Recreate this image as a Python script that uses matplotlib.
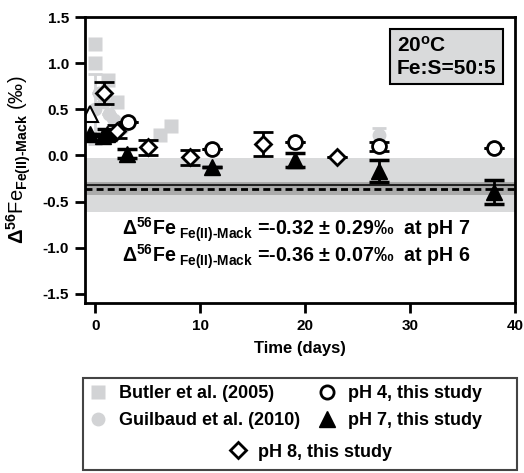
import numpy as np
import matplotlib
matplotlib.use('Agg')
import matplotlib.pyplot as plt
from matplotlib.lines import Line2D
from matplotlib.patches import Rectangle

plt.rcParams['font.family'] = ['Liberation Sans', 'DejaVu Sans']
plt.rcParams['font.weight'] = 'bold'
plt.rcParams['mathtext.fontset'] = 'custom'
plt.rcParams['mathtext.rm'] = 'Liberation Sans:bold'
plt.rcParams['mathtext.it'] = 'Liberation Sans:bold'
plt.rcParams['mathtext.bf'] = 'Liberation Sans:bold'
plt.rcParams['mathtext.sf'] = 'Liberation Sans:bold'

# literature data
butler_t = [0.0, 0.0, 1.2, 2.1, 6.2, 7.2]
butler_d = [1.21, 1.00, 0.82, 0.58, 0.22, 0.32]
guil_t = [0.0, 0.3, 0.8, 1.3, 1.8, 2.5, 27.0]
guil_d = [0.50, 0.68, 0.58, 0.45, 0.38, 0.30, 0.22]
guil_e = [0.38, 0.0, 0.0, 0.0, 0.0, 0.0, 0.08]

# this study
ph4_t = [3.1, 11.1, 19.0, 27.0, 38.0]
ph4_d = [0.36, 0.07, 0.15, 0.10, 0.08]
ph4_e = [0.0, 0.0, 0.0, 0.05, 0.0]
ph7_t = [-0.5, 0.7, 1.1, 3.0, 11.1, 19.0, 27.0, 38.0]
ph7_d = [0.23, 0.21, 0.23, 0.02, -0.13, -0.05, -0.17, -0.40]
ph7_e = [0.0, 0.0, 0.06, 0.05, 0.0, 0.08, 0.12, 0.13]
ph7_open_t = [-0.5]
ph7_open_d = [0.45]
ph8_t = [0.8, 2.1, 5.0, 9.0, 16.0, 23.0]
ph8_d = [0.68, 0.26, 0.09, -0.02, 0.12, -0.02]
ph8_e = [0.12, 0.07, 0.08, 0.08, 0.13, 0.0]

# fractionation factors: mean, 2sd
ff_ph7 = (-0.32, 0.29)
ff_ph6 = (-0.36, 0.07)

fig = plt.figure(figsize=(5.24, 4.73), dpi=100)
ax = fig.add_axes([0.162, 0.359, 0.821, 0.605])

ax.axhspan(ff_ph7[0] - ff_ph7[1], ff_ph7[0] + ff_ph7[1], color='#d9dadb', lw=0, zorder=0)
ax.axhspan(ff_ph6[0] - ff_ph6[1], ff_ph6[0] + ff_ph6[1], color='#ababab', lw=0, zorder=0.5)
ax.axhline(ff_ph7[0], color='#222222', lw=1.5, zorder=1)
ax.axhline(ff_ph6[0], color='black', lw=2, ls=(0, (2.5, 1.5)), zorder=1)

gray = '#d2d3d5'
ax.plot(butler_t, butler_d, 's', ms=10, color=gray, mec='none', zorder=2)
ax.errorbar(guil_t, guil_d, yerr=guil_e, fmt='o', ms=10, color=gray, mec='none',
            ecolor=gray, elinewidth=2, capsize=5, capthick=2, zorder=2)

kw = dict(ecolor='black', elinewidth=2, capsize=7, capthick=2.5, zorder=3)
ax.plot(ph7_open_t, ph7_open_d, '^', ms=11, mfc='white', mec='black', mew=1.5, zorder=2.5)
ax.errorbar(ph7_t, ph7_d, yerr=ph7_e, fmt='^', ms=11, mfc='black', mec='black', **kw)
ax.errorbar(ph4_t, ph4_d, yerr=ph4_e, fmt='o', ms=10, mfc='white', mec='black', mew=2, **kw)
ax.errorbar(ph8_t, ph8_d, yerr=ph8_e, fmt='D', ms=8.5, mfc='white', mec='black', mew=2, **kw)

ax.set_xlim(-1, 40)
ax.set_ylim(-1.6, 1.5)
ax.set_xticks([0, 10, 20, 30, 40])
ax.set_yticks([-1.5, -1.0, -0.5, 0.0, 0.5, 1.0, 1.5])
ax.set_yticklabels(['%.1f' % v for v in ax.get_yticks()])
ax.tick_params(direction='out', length=7.5, width=2, labelsize=11, pad=4)
for s in ax.spines.values():
    s.set_linewidth(2)

ax.set_xlabel('Time (days)', fontsize=12, fontweight='bold', labelpad=6)
ax.set_ylabel(r'$\Delta^{56}$Fe$_{\text{Fe(II)-Mack}}$ (‰)', fontsize=14.5)
ax.yaxis.set_label_coords(-0.121, 0.5)

txt = r'$\Delta^{56}$Fe$_{\ \text{Fe(II)-Mack}}$ =%.2f ± %.2f‰  at pH %d'
ax.text(0.086, 0.255, txt % (ff_ph7[0], ff_ph7[1], 7), transform=ax.transAxes,
        fontsize=14.1, va='center')
ax.text(0.086, 0.163, txt % (ff_ph6[0], ff_ph6[1], 6), transform=ax.transAxes,
        fontsize=14.1, va='center')

ax.text(0.725, 0.862, '20$^{\\rm o}$C\nFe:S=50:5', transform=ax.transAxes,
        fontsize=15, va='center', ha='left', linespacing=1.2,
        bbox=dict(boxstyle='square,pad=0.32', fc='#d9dadb', ec='black', lw=1.5))

# legend: three frameless pieces inside one border
h_butler = Line2D([], [], ls='none', marker='s', ms=10, color=gray, mec='none')
h_guil = Line2D([], [], ls='none', marker='o', ms=10, color=gray, mec='none')
h_ph4 = Line2D([], [], ls='none', marker='o', ms=9.5, mfc='white', mec='black', mew=2)
h_ph7 = Line2D([], [], ls='none', marker='^', ms=11, mfc='black', mec='black')
h_ph8 = Line2D([], [], ls='none', marker='D', ms=8.5, mfc='white', mec='black', mew=2)
lkw = dict(frameon=False, prop=dict(size=13, weight='bold'), handletextpad=0.55,
           handlelength=1.2, labelspacing=0.55, borderpad=0, borderaxespad=0)
fig.legend([h_butler, h_guil], ['Butler et al. (2005)', 'Guilbaud et al. (2010)'],
           loc='center left', bbox_to_anchor=(0.166, 0.139), **lkw)
fig.legend([h_ph4, h_ph7], ['pH 4, this study', 'pH 7, this study'],
           loc='center left', bbox_to_anchor=(0.603, 0.139), **lkw)
fig.legend([h_ph8], ['pH 8, this study'],
           loc='center left', bbox_to_anchor=(0.433, 0.044), **lkw)
fig.add_artist(Rectangle((0.158, 0.006), 0.828, 0.195, transform=fig.transFigure,
                         fill=False, ec='#444444', lw=1.5))

fig.savefig('out.png', dpi=100)
